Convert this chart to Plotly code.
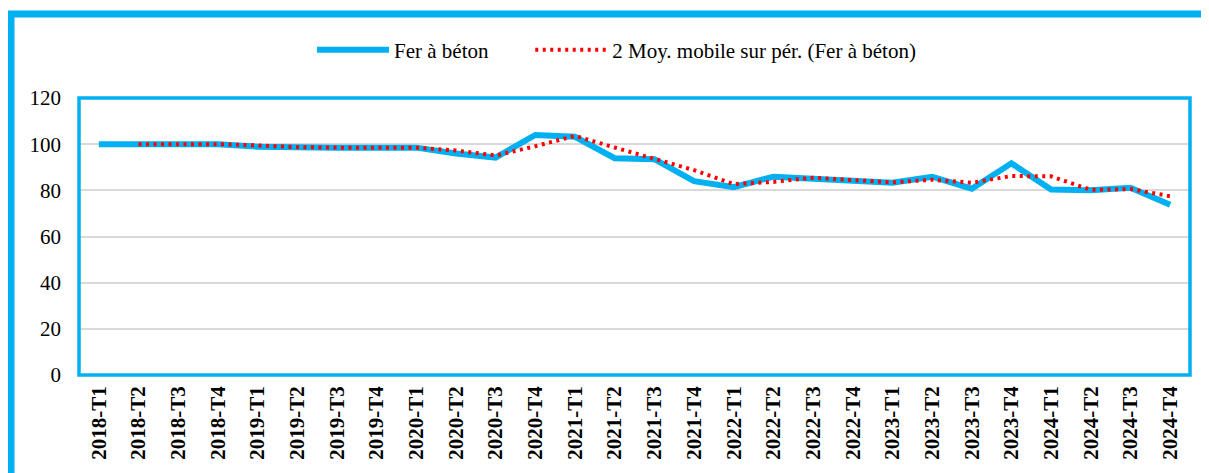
import plotly.graph_objects as go

categories = ["2018-T1", "2018-T2", "2018-T3", "2018-T4",
              "2019-T1", "2019-T2", "2019-T3", "2019-T4",
              "2020-T1", "2020-T2", "2020-T3", "2020-T4",
              "2021-T1", "2021-T2", "2021-T3", "2021-T4",
              "2022-T1", "2022-T2", "2022-T3", "2022-T4",
              "2023-T1", "2023-T2", "2023-T3", "2023-T4",
              "2024-T1", "2024-T2", "2024-T3", "2024-T4"]

fer_a_beton = [100.0, 100.0, 100.0, 100.0,
               98.9, 98.5, 98.5, 98.5,
               98.5, 96.0, 94.2, 104.0,
               103.2, 93.9, 93.5, 84.0,
               81.4, 85.9, 85.0, 83.6,
               83.3, 85.9, 80.7, 91.7,
               80.4, 80.0, 81.1, 73.8]

# 2-period moving average (first period has no value)
moy_mobile = [None] + [(fer_a_beton[i - 1] + fer_a_beton[i]) / 2 for i in range(1, len(fer_a_beton))]

series_names = ["Fer à béton", "2 Moy. mobile sur pér. (Fer à béton)"]

BLUE = "#00B0F0"
FONT = "Liberation Serif"
PAD = "\u00a0" * 7  # extra gap after the first legend entry

fig = go.Figure()
fig.add_trace(go.Scatter(x=categories, y=fer_a_beton, mode="lines",
                         name=series_names[0] + PAD,
                         line=dict(color=BLUE, width=6)))
fig.add_trace(go.Scatter(x=categories, y=moy_mobile, mode="lines",
                         name=series_names[1],
                         line=dict(color="#FF0000", width=4, dash="3px,4.5px")))

# page has an 8px body margin: figure coordinates = screen - 8
OFF = 8
W, H = 1209 - OFF, 473 - OFF
L, T = 79 - OFF, 98 - OFF
R = W - (1190 - OFF)
B = H - (375 - OFF)
pw, ph = W - L - R, H - T - B

def px(xs):
    return (xs - OFF - L) / pw

def py(ys):
    return (H - B - (ys - OFF)) / ph

fig.update_layout(
    width=W, height=H,
    margin=dict(l=L, r=R, t=T, b=B, autoexpand=False),
    paper_bgcolor="white", plot_bgcolor="white",
    font=dict(family=FONT, size=21, color="black"),
    showlegend=True,
    legend=dict(orientation="h", x=px(312), y=py(50), xanchor="left", yanchor="middle",
                font=dict(family=FONT, size=21, color="black"),
                itemwidth=72, bgcolor="rgba(0,0,0,0)", tracegroupgap=0),
    xaxis=dict(type="category", range=[-0.5, 27.5], tickangle=-90, automargin=False,
               tickfont=dict(family=FONT, size=21, color="black", weight="bold"),
               showgrid=False, showline=False, zeroline=False, ticks="",
               ticklabelstandoff=6),
    yaxis=dict(range=[0, 120], dtick=20, tick0=0, automargin=False,
               tickfont=dict(family=FONT, size=21, color="black"),
               showgrid=True, gridcolor="#D9D9D9", gridwidth=2,
               zeroline=False, showline=False, ticks="", ticklabelstandoff=17),
    shapes=[
        dict(type="rect", xref="paper", yref="paper", x0=0, x1=1, y0=0, y1=1,
             line=dict(color=BLUE, width=3.5), layer="above"),
        dict(type="rect", xref="paper", yref="paper",
             x0=px(11), x1=px(1240), y0=py(14), y1=py(520),
             line=dict(color=BLUE, width=7), layer="above"),
    ],
)

fig.write_html("out.html")
